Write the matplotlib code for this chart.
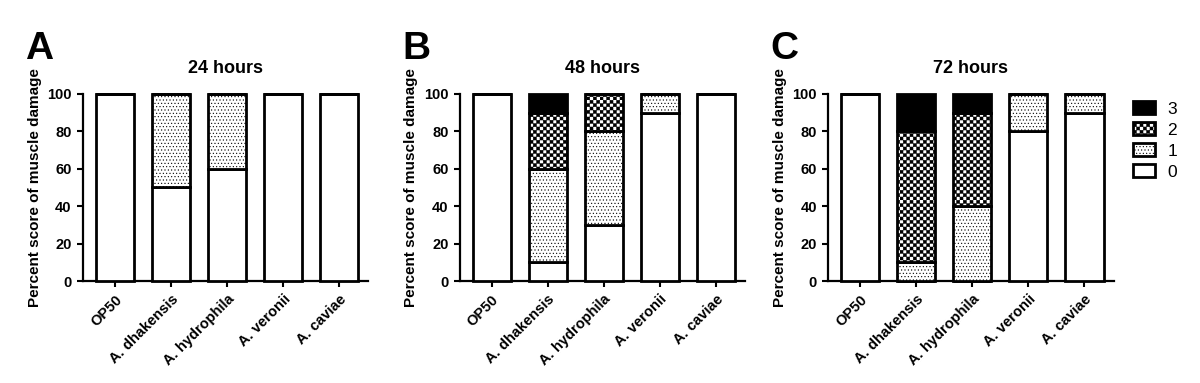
import numpy as np
import matplotlib
matplotlib.use('Agg')
import matplotlib.pyplot as plt
import matplotlib.hatch as mhatch
from matplotlib.path import Path
from matplotlib.patches import Patch

strains = ['OP50', 'A. dhakensis', 'A. hydrophila', 'A. veronii', 'A. caviae']
times = ['24 hours', '48 hours', '72 hours']
letters = ['A', 'B', 'C']
score_names = ['0', '1', '2', '3']

# percent of worms with each damage score (0..3), one list per score, per strain
h24_s0 = [100, 50, 60, 100, 100]
h24_s1 = [0, 50, 40, 0, 0]
h24_s2 = [0, 0, 0, 0, 0]
h24_s3 = [0, 0, 0, 0, 0]

h48_s0 = [100, 10, 30, 90, 100]
h48_s1 = [0, 50, 50, 10, 0]
h48_s2 = [0, 30, 20, 0, 0]
h48_s3 = [0, 10, 0, 0, 0]

h72_s0 = [100, 0, 0, 80, 90]
h72_s1 = [0, 10, 40, 20, 10]
h72_s2 = [0, 70, 50, 0, 0]
h72_s3 = [0, 20, 10, 0, 0]

panels = [
    [h24_s0, h24_s1, h24_s2, h24_s3],
    [h48_s0, h48_s1, h48_s2, h48_s3],
    [h72_s0, h72_s1, h72_s2, h72_s3],
]


# checkerboard hatch, takes the place of the '*' (stars) hatch
class CheckerHatch(mhatch.HatchPatternBase):
    def __init__(self, hatch, density):
        self.n = hatch.count('*') * 10
        self.num_vertices = (self.n * self.n // 2) * 5

    def set_vertices_and_codes(self, vertices, codes):
        step = 1.0 / self.n
        sq = np.array([[0, 0], [1, 0], [1, 1], [0, 1], [0, 0]], float) * step * 0.9
        k = 0
        for i in range(self.n):
            for j in range(self.n):
                if (i + j) % 2 == 0:
                    vertices[k:k + 5] = sq + [i * step, j * step]
                    codes[k:k + 5] = [Path.MOVETO, Path.LINETO, Path.LINETO,
                                      Path.LINETO, Path.CLOSEPOLY]
                    k += 5


mhatch._hatch_types = [t for t in mhatch._hatch_types if t is not mhatch.Stars] + [CheckerHatch]

plt.rcParams['font.family'] = ['Liberation Sans', 'DejaVu Sans']
plt.rcParams['font.weight'] = 'bold'
plt.rcParams['hatch.linewidth'] = 0.4
plt.rcParams['hatch.color'] = 'black'

styles = [
    dict(facecolor='white', hatch=''),
    dict(facecolor='white', hatch='.....'),
    dict(facecolor='white', hatch='***'),
    dict(facecolor='black', hatch=''),
]

fig = plt.figure(figsize=(12, 3.83), dpi=100)
lefts = [0.069, 0.383, 0.690]
width = 0.238

x = np.arange(len(strains))
for p in range(3):
    ax = fig.add_axes([lefts[p], 0.266, width, 0.489])
    bottom = np.zeros(len(strains))
    for s in range(4):
        vals = np.array(panels[p][s], float)
        ax.bar(x, vals, 0.68, bottom=bottom, edgecolor='black', linewidth=2,
               clip_on=False, zorder=3, **styles[s])
        bottom += vals
    ax.set_xlim(-0.57, 4.52)
    ax.set_ylim(0, 100)
    ax.set_yticks(range(0, 101, 20))
    ax.set_xticks(x)
    ax.set_xticklabels(strains, rotation=45, ha='right', rotation_mode='anchor',
                       fontsize=10.5, fontweight='bold')
    ax.tick_params(axis='y', labelsize=10.5)
    ax.tick_params(width=1.5, length=4.5)
    for lab in ax.get_yticklabels():
        lab.set_fontweight('bold')
    for side in ['top', 'right']:
        ax.spines[side].set_visible(False)
    for side in ['left', 'bottom']:
        ax.spines[side].set_linewidth(1.6)
    ax.set_ylabel('Percent score of muscle damage', fontsize=11, fontweight='bold',
                  labelpad=4)
    ax.set_title(times[p], fontsize=13, fontweight='bold', pad=15)
    fig.text(lefts[p] - 0.048, 0.826, letters[p], fontsize=28, fontweight='bold',
             ha='left', va='bottom')

handles = [Patch(edgecolor='black', linewidth=2, label=score_names[s], **styles[s])
           for s in range(4)][::-1]
fig.legend(handles=handles, loc='upper left', bbox_to_anchor=(0.931, 0.776),
           frameon=False, prop={'weight': 'normal', 'size': 12.5},
           handlelength=1.3, handleheight=0.72, labelspacing=0.33, handletextpad=0.7)

fig.savefig('out.png', dpi=100)
